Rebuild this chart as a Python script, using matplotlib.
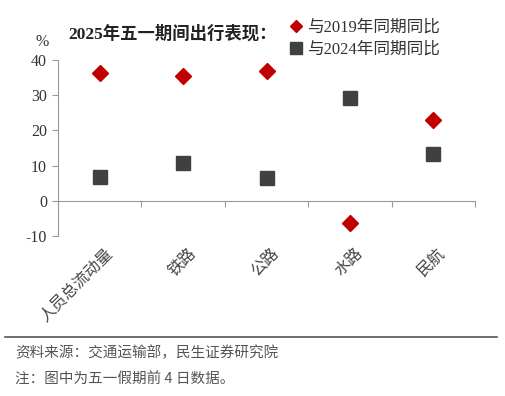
import matplotlib
matplotlib.use("Agg")
import matplotlib.pyplot as plt
from matplotlib.lines import Line2D
import matplotlib.transforms as mtransforms

# 数据
categories = ["人员总流动量", "铁路", "公路", "水路", "民航"]
vs_2019 = [36.4, 35.5, 36.9, -6.3, 23.0]
vs_2024 = [6.8, 10.8, 6.5, 29.3, 13.4]
yticks = [-10, 0, 10, 20, 30, 40]

cjk = ["Noto Sans CJK SC", "DejaVu Sans"]
serif_cjk = ["Liberation Serif", "Noto Sans CJK SC"]
plt.rcParams["font.family"] = serif_cjk

fig = plt.figure(figsize=(5.05, 3.96), dpi=100)
ax = fig.add_axes([0.115, 0.404, 0.8256, 0.4444])

x = list(range(len(categories)))
ax.plot(x, vs_2019, linestyle="none", marker="D", ms=8, color="#C00000",
        label="与2019年同期同比")
ax.plot(x, vs_2024, linestyle="none", marker="s", ms=10, color="#404040",
        label="与2024年同期同比")

ax.set_xlim(-0.5, len(categories) - 0.5)
ax.set_ylim(-10, 40)
ax.set_yticks(yticks)
ax.set_yticklabels([str(v) for v in yticks], fontsize=11.5, color="#333333")

ax.spines["top"].set_visible(False)
ax.spines["right"].set_visible(False)
ax.spines["left"].set_color("#999999")
ax.spines["bottom"].set_position(("data", 0))
ax.spines["bottom"].set_color("#999999")
ax.tick_params(axis="y", direction="out", length=4, color="#999999", pad=4)
ax.set_xticks([i + 0.5 for i in x])
ax.set_xticklabels([])
ax.tick_params(axis="x", direction="out", length=4, color="#999999")

trans = mtransforms.blended_transform_factory(ax.transData, ax.transAxes)
for i, name in enumerate(categories):
    ax.text(i + 0.05, -0.05, name, transform=trans, rotation=45,
            ha="right", va="top", rotation_mode="anchor",
            fontsize=11.5, color="#444444", family=cjk)

fig.text(35 / 505, 1 - 42 / 396, "%", fontsize=11.5, color="#333333",
         ha="left", va="center")
fig.text(68 / 505, 1 - 34 / 396, "2025年五一期间出行表现：", fontsize=12.5,
         fontweight="bold", color="#222222", ha="left", va="center")

fig.legend(loc="upper left", bbox_to_anchor=(290 / 505, 1 - 20 / 396),
           frameon=False, fontsize=12, handlelength=0.7, handletextpad=0.3,
           labelspacing=0.35, borderaxespad=0, borderpad=0, markerscale=0.8,
           labelcolor="#333333")

fig.add_artist(Line2D([5 / 505, 497 / 505], [1 - 337 / 396, 1 - 337 / 396],
                      color="#555555", lw=1.2))
fig.text(15 / 505, 1 - 353 / 396, "资料来源：交通运输部，民生证券研究院",
         fontsize=10.5, color="#555555", ha="left", va="center", family=cjk)
fig.text(15 / 505, 1 - 380 / 396, "注：图中为五一假期前 4 日数据。",
         fontsize=10.5, color="#555555", ha="left", va="center", family=cjk)

fig.savefig("out.png", dpi=100)
